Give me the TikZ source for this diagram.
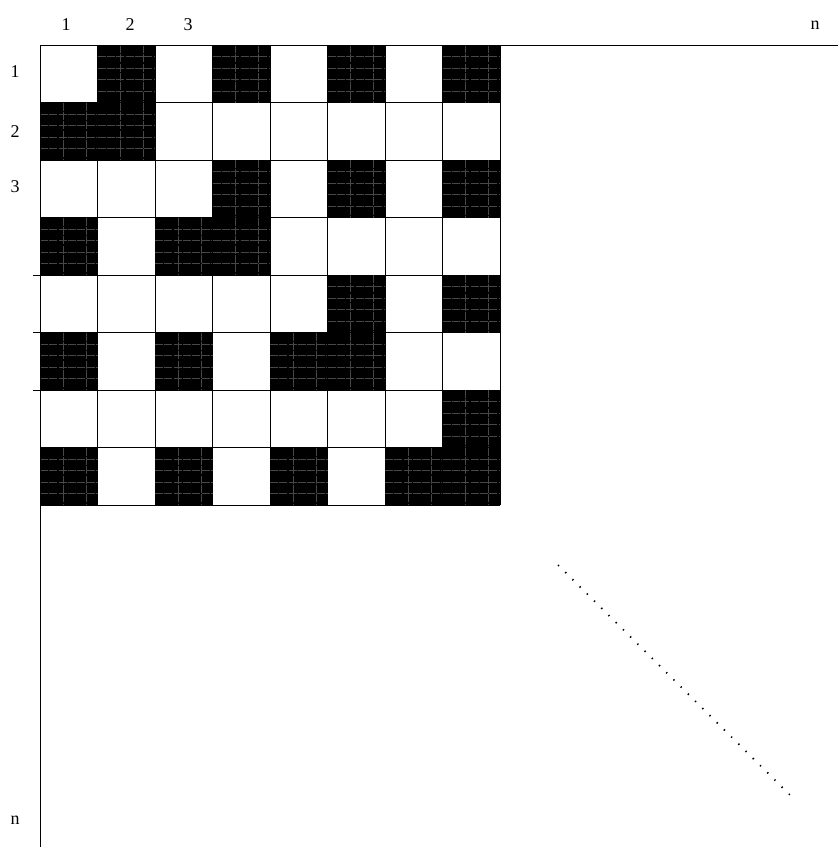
\documentclass[tikz,border=0pt]{standalone}
\usepackage{fontspec}
\setmainfont{Liberation Serif}
\usetikzlibrary{positioning}

\tikzset{
  boardline/.style={line width=0.6pt},
  cellgrid/.style={draw=black!72,line width=0.6pt,dash pattern=on 6pt off 1pt},
  axislabel/.style={inner sep=0pt}
}

\begin{document}
\begin{tikzpicture}[x=0.75pt,y=-0.75pt,line join=round,font=\fontsize{13.5}{16}\selectfont]
\useasboundingbox (0,0) rectangle (838,847);
% --- board: 8x8 squares of side 57.5
\foreach \i in {0,...,8} {\draw[boardline] (40+57.5*\i,45) -- (40+57.5*\i,505); \draw[boardline] (40,45+57.5*\i) -- (500,45+57.5*\i);}
% black squares (column/row)
\foreach \c/\r in {2/1,4/1,6/1,8/1, 1/2,2/2, 4/3,6/3,8/3, 1/4,3/4,4/4, 6/5,8/5, 1/6,3/6,5/6,6/6, 8/7, 1/8,3/8,5/8,7/8,8/8} {
  \pgfmathsetmacro\xa{40+57.5*(\c-1)}
  \pgfmathsetmacro\ya{45+57.5*(\r-1)}
  \fill (\xa-0.3,\ya-0.3) rectangle ++(58.1,58.1);
  \foreach \u in {23,46} \draw[cellgrid] (\xa+\u,\ya) -- ++(0,57.5);
  \foreach \v in {11.5,23,34.5,46} \draw[cellgrid] (\xa,\ya+\v) -- ++(57.5,0);
}
% --- axes of the n x n array
\coordinate (corner) at (40,45);
\coordinate (rightend) at (838,45);
\coordinate (bottomend) at (40,847);
\draw[boardline] (rightend) -- (corner) -- (bottomend);
\foreach \y in {275,332.5,390} \draw[boardline] (33,\y) -- (40,\y);
% index labels
\node[axislabel] (col1) at (66,25) {1};
\node[axislabel] (col2) at (130,25) {2};
\node[axislabel] (col3) at (188,25) {3};
\node[axislabel] (coln) at (815,25) {n};
\node[axislabel] (row1) at (15,72) {1};
\node[axislabel] (row2) at (15,132) {2};
\node[axislabel] (row3) at (15,187) {3};
\node[axislabel] (rown) at (15,820) {n};
% --- dotted diagonal
\coordinate (diagstart) at (558,565);
\coordinate (diagend) at (790,795);
\draw[line width=1.3pt,dash pattern=on 1pt off 6.62pt] (diagstart) -- (diagend);
\end{tikzpicture}
\end{document}
